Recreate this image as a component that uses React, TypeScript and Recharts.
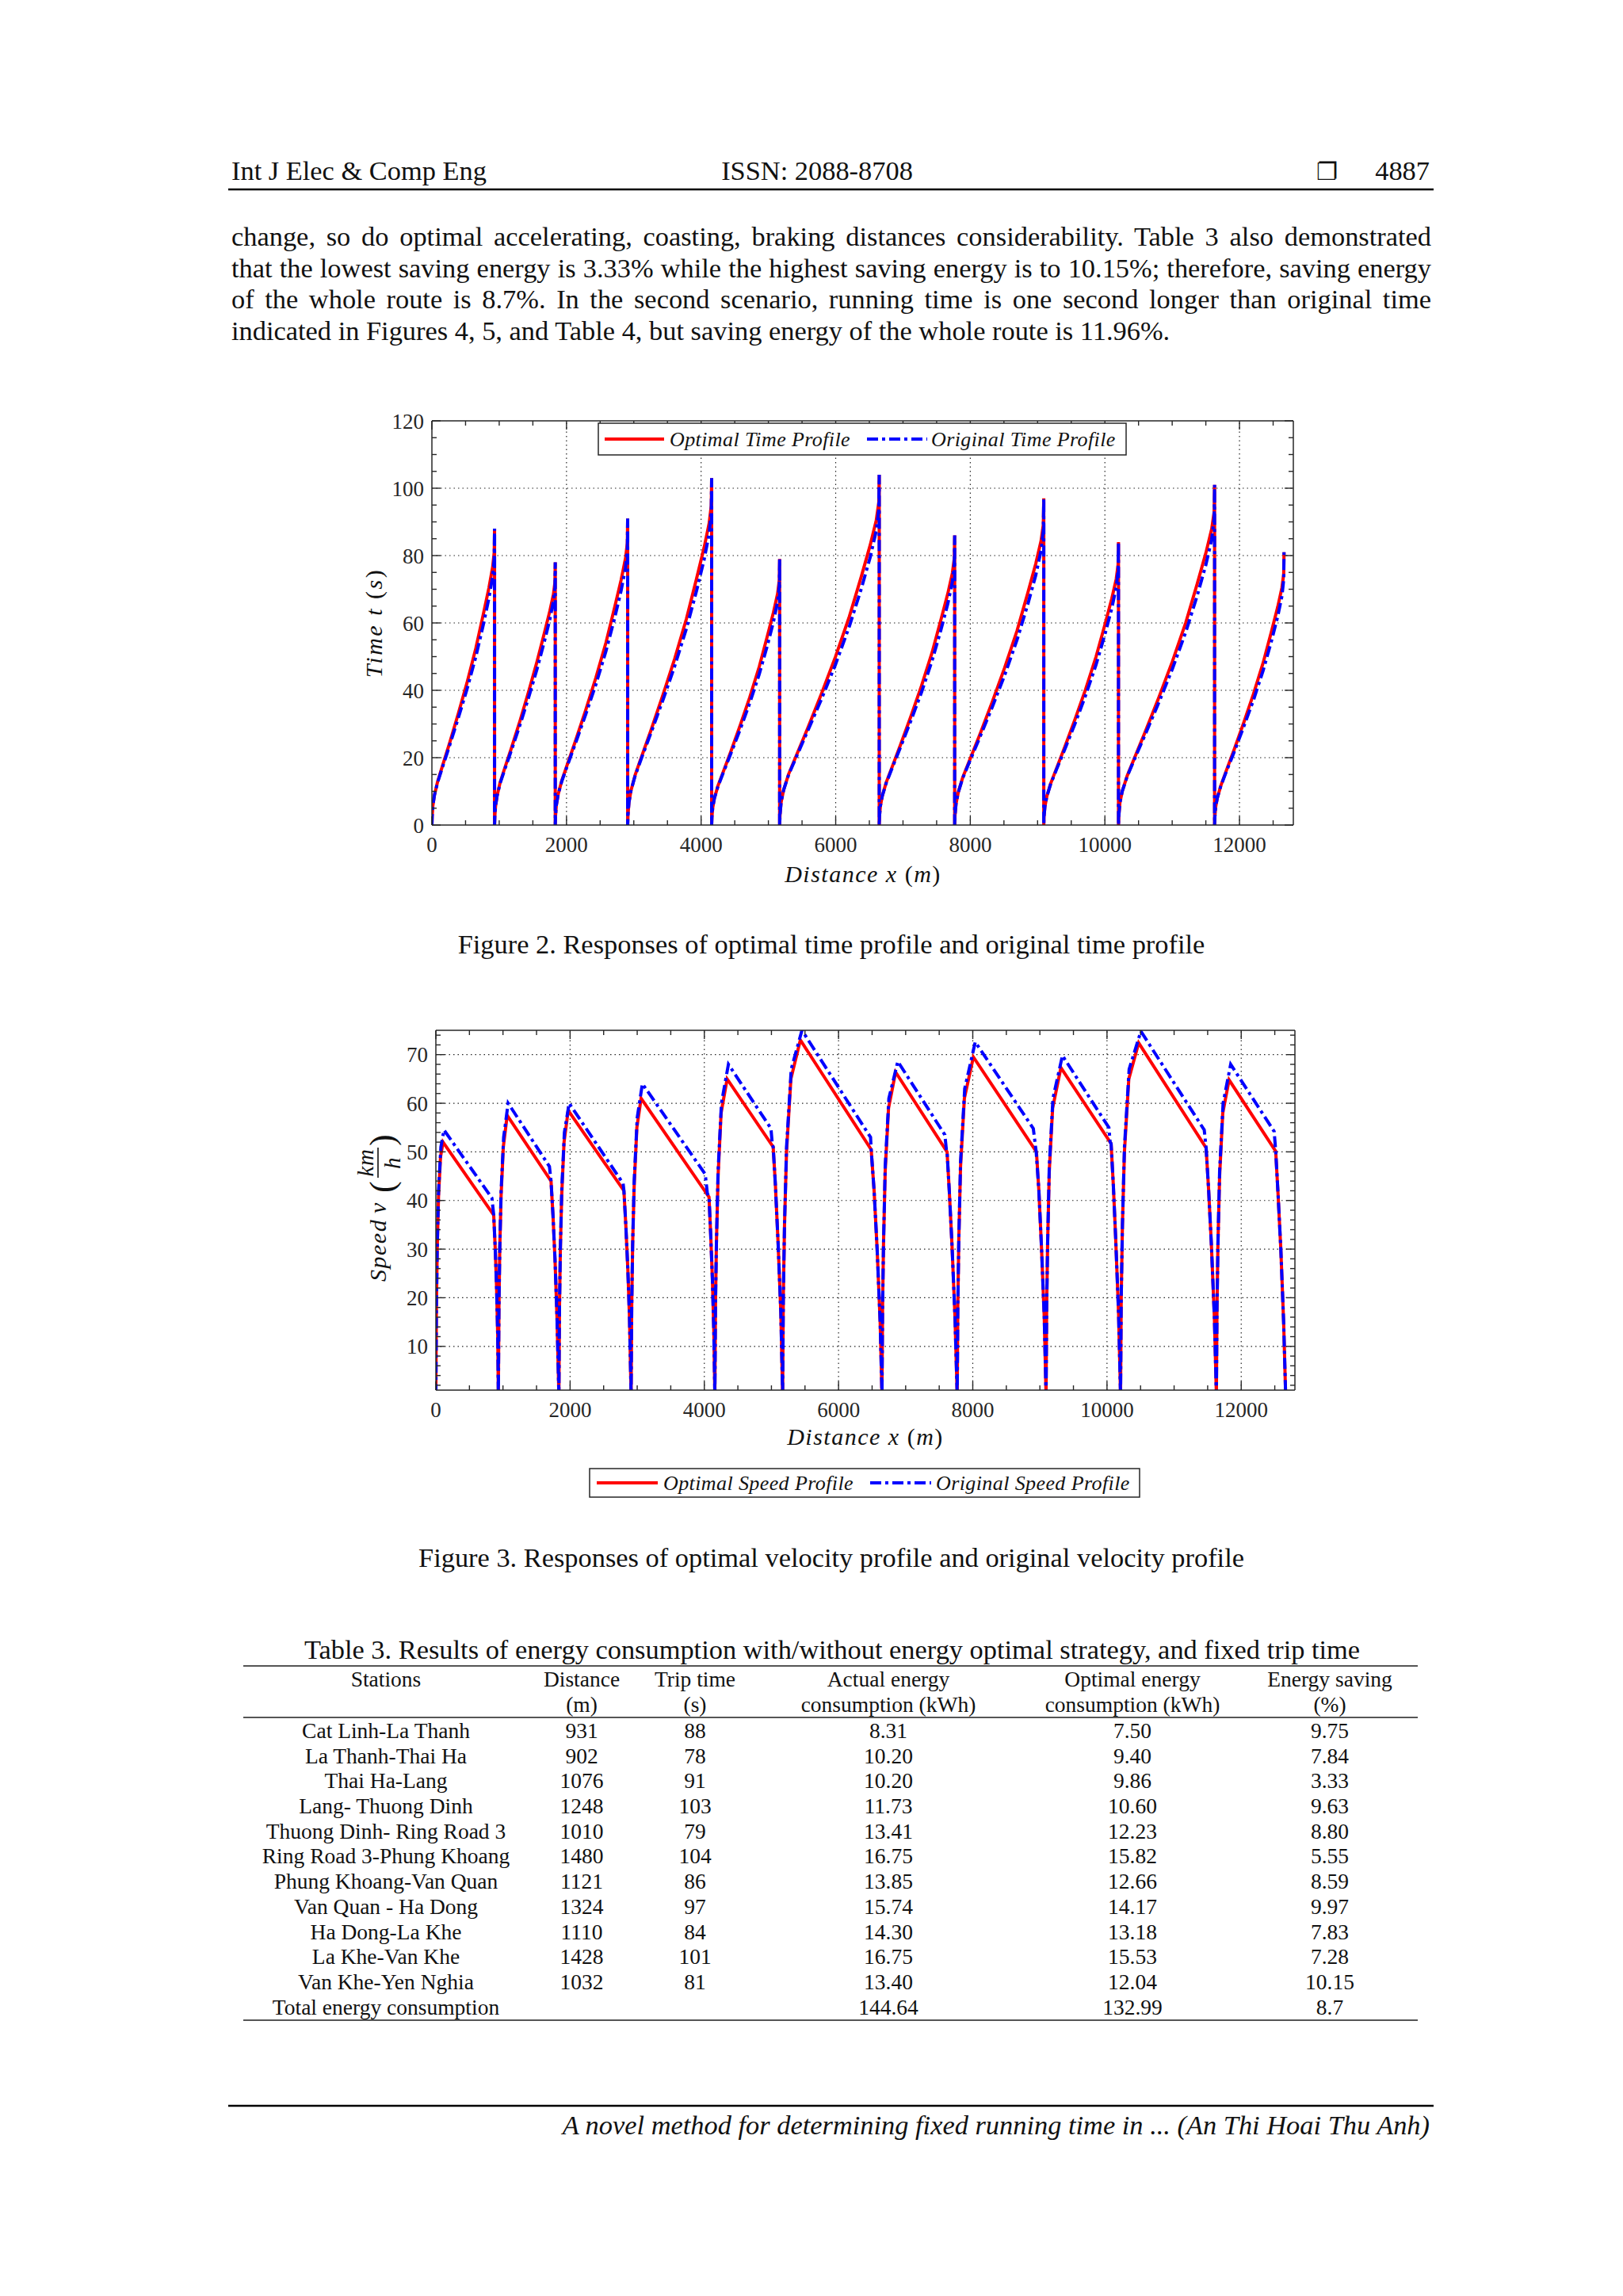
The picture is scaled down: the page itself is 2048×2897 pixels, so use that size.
import React from 'react'
import { LineChart, Line, XAxis, YAxis, ReferenceLine } from 'recharts'

const SERIF = '"Liberation Serif", "Times New Roman", serif'
const AXIS = '#262626'
const RED = '#ff0000'
const BLUE = '#0000ff'
const BLUE_DASH = '14 5 4 5'

// stations / table 3
const stationNames = [
  'Cat Linh-La Thanh', 'La Thanh-Thai Ha', 'Thai Ha-Lang', 'Lang- Thuong Dinh', 'Thuong Dinh- Ring Road 3',
  'Ring Road 3-Phung Khoang', 'Phung Khoang-Van Quan', 'Van Quan - Ha Dong', 'Ha Dong-La Khe', 'La Khe-Van Khe', 'Van Khe-Yen Nghia',
]
const stationLengths = [931, 902, 1076, 1248, 1010, 1480, 1121, 1324, 1110, 1428, 1032]
const tripTimes = [88, 78, 91, 103, 79, 104, 86, 97, 84, 101, 81]
const actualEnergy = ['8.31', '10.20', '10.20', '11.73', '13.41', '16.75', '13.85', '15.74', '14.30', '16.75', '13.40']
const optimalEnergy = ['7.50', '9.40', '9.86', '10.60', '12.23', '15.82', '12.66', '14.17', '13.18', '15.53', '12.04']
const energySaving = ['9.75', '7.84', '3.33', '9.63', '8.80', '5.55', '8.59', '9.97', '7.83', '7.28', '10.15']
const totalRow = ['Total energy consumption', '', '', '144.64', '132.99', '8.7']

// axes
const xMajorTicks = [0, 2000, 4000, 6000, 8000, 10000, 12000]
const xMinorTicks = [0, 500, 1000, 1500, 2000, 2500, 3000, 3500, 4000, 4500, 5000, 5500, 6000, 6500, 7000, 7500, 8000, 8500, 9000, 9500, 10000, 10500, 11000, 11500, 12000, 12500]
const timeMajorTicks = [0, 20, 40, 60, 80, 100, 120]
const timeMinorTicks = [0, 5, 10, 15, 20, 25, 30, 35, 40, 45, 50, 55, 60, 65, 70, 75, 80, 85, 90, 95, 100, 105, 110, 115, 120]
const speedMajorTicks = [10, 20, 30, 40, 50, 60, 70]
const speedMinorTicks = [2, 4, 6, 8, 10, 12, 14, 16, 18, 20, 22, 24, 26, 28, 30, 32, 34, 36, 38, 40, 42, 44, 46, 48, 50, 52, 54, 56, 58, 60, 62, 64, 66, 68, 70, 72, 74]

// figure 2: time read at these fractions of each inter-station run
const timeSampleFractions = [0, 0.004, 0.015, 0.04, 0.09, 0.17, 0.28, 0.42, 0.56, 0.7, 0.82, 0.91, 0.97, 0.995, 1]
const optimalTimeBySegment = [
  [0, 2.6, 5.7, 8.8, 12.8, 17.6, 24.2, 33.0, 42.2, 52.4, 62.5, 70.4, 76.6, 81.0, 88],
  [0, 2.5, 5.5, 8.5, 12.5, 17.0, 23.0, 31.0, 39.5, 48.5, 57.0, 63.5, 68.5, 72.0, 78],
  [0, 2.7, 5.9, 9.1, 13.2, 18.2, 25.0, 34.1, 43.7, 54.1, 64.6, 72.8, 79.2, 83.7, 91],
  [0, 3.1, 6.7, 10.3, 14.9, 20.6, 28.3, 38.6, 49.4, 61.3, 73.1, 82.4, 89.6, 94.8, 103],
  [0, 2.4, 5.1, 7.9, 11.5, 15.8, 21.7, 29.6, 37.9, 47.0, 56.1, 63.2, 68.7, 72.7, 79],
  [0, 3.1, 6.8, 10.4, 15.1, 20.8, 28.6, 39.0, 49.9, 61.9, 73.8, 83.2, 90.5, 95.7, 104],
  [0, 2.6, 5.6, 8.6, 12.5, 17.2, 23.7, 32.3, 41.3, 51.2, 61.1, 68.8, 74.8, 79.1, 86],
  [0, 2.9, 6.3, 9.7, 14.1, 19.4, 26.7, 36.4, 46.6, 57.7, 68.9, 77.6, 84.4, 89.2, 97],
  [0, 2.5, 5.5, 8.4, 12.2, 16.8, 23.1, 31.5, 40.3, 50.0, 59.6, 67.2, 73.1, 77.3, 84],
  [0, 3.0, 6.6, 10.1, 14.6, 20.2, 27.8, 37.9, 48.5, 60.1, 71.7, 80.8, 87.9, 92.9, 101],
  [0, 2.4, 5.3, 8.1, 11.7, 16.2, 22.3, 30.4, 38.9, 48.2, 57.5, 64.8, 70.5, 74.5, 81],
]
const originalTimeBySegment = [
  [0, 2.6, 5.7, 8.8, 12.6, 17.2, 23.5, 31.7, 40.3, 49.9, 59.4, 67.3, 73.9, 79.2, 88],
  [0, 2.5, 5.5, 8.5, 12.3, 16.6, 22.3, 29.8, 37.8, 46.3, 54.5, 61.0, 66.5, 70.5, 78],
  [0, 2.7, 5.9, 9.1, 13.0, 17.8, 24.3, 32.8, 41.7, 51.6, 61.4, 69.6, 76.4, 81.9, 91],
  [0, 3.1, 6.7, 10.3, 14.7, 20.2, 27.5, 37.1, 47.2, 58.4, 69.5, 78.8, 86.5, 92.7, 103],
  [0, 2.4, 5.1, 7.9, 11.3, 15.5, 21.1, 28.4, 36.2, 44.8, 53.3, 60.4, 66.4, 71.1, 79],
  [0, 3.1, 6.8, 10.4, 14.9, 20.4, 27.8, 37.4, 47.6, 59.0, 70.2, 79.6, 87.4, 93.6, 104],
  [0, 2.6, 5.6, 8.6, 12.3, 16.9, 23.0, 31.0, 39.4, 48.8, 58.1, 65.8, 72.2, 77.4, 86],
  [0, 2.9, 6.3, 9.7, 13.9, 19.0, 25.9, 34.9, 44.4, 55.0, 65.5, 74.2, 81.5, 87.3, 97],
  [0, 2.5, 5.5, 8.4, 12.0, 16.5, 22.4, 30.2, 38.5, 47.6, 56.7, 64.3, 70.6, 75.6, 84],
  [0, 3.0, 6.6, 10.1, 14.4, 19.8, 27.0, 36.4, 46.3, 57.3, 68.2, 77.3, 84.8, 90.9, 101],
  [0, 2.4, 5.3, 8.1, 11.6, 15.9, 21.6, 29.2, 37.1, 45.9, 54.7, 62.0, 68.0, 72.9, 81],
]

// figure 3: [distance m, speed km/h] per run
const optimalSpeedSegments = [
  [[0, 0], [8, 18], [20, 30], [40, 41], [70, 49], [107, 52], [862, 37], [885, 30], [905, 22], [922, 12], [931, 0]],
  [[931, 0], [940, 18], [952, 30], [972, 41], [1005, 51], [1063, 57.5], [1716, 44], [1745, 37], [1775, 28], [1805, 16], [1833, 0]],
  [[1833, 0], [1842, 18], [1855, 30], [1875, 41], [1910, 52], [1972, 58.5], [2802, 42], [2830, 35], [2860, 26], [2885, 16], [2909, 0]],
  [[2909, 0], [2918, 18], [2932, 31], [2955, 43], [2995, 55], [3058, 61], [4070, 40.7], [4095, 33], [4120, 24], [4142, 13], [4157, 0]],
  [[4157, 0], [4166, 18], [4180, 31], [4205, 45], [4250, 58], [4340, 65], [5026, 51], [5060, 43], [5100, 31], [5140, 17], [5167, 0]],
  [[5167, 0], [5177, 20], [5195, 35], [5225, 50], [5290, 65], [5431, 73], [6486, 50.5], [6530, 42], [6575, 30], [6620, 15], [6647, 0]],
  [[6647, 0], [6656, 18], [6670, 31], [6695, 46], [6745, 59], [6850, 66.4], [7617, 50], [7650, 42], [7690, 31], [7735, 16], [7768, 0]],
  [[7768, 0], [7777, 18], [7792, 32], [7818, 47], [7875, 61], [8009, 69.5], [8949, 50], [8985, 42], [9025, 30], [9065, 16], [9092, 0]],
  [[9092, 0], [9101, 18], [9115, 31], [9140, 46], [9190, 59], [9313, 67.3], [10061, 51.7], [10095, 43], [10130, 32], [10172, 17], [10202, 0]],
  [[10202, 0], [10212, 20], [10230, 35], [10260, 50], [10325, 65], [10472, 72.4], [11477, 50.8], [11515, 42], [11555, 31], [11600, 16], [11630, 0]],
  [[11630, 0], [11639, 18], [11653, 31], [11678, 45], [11725, 58], [11819, 64.8], [12514, 50.1], [12550, 41], [12590, 30], [12632, 15], [12662, 0]],
]
const originalSpeedSegments = [
  [[0, 0], [8, 18], [20, 30], [40, 42], [75, 51], [121, 54.5], [835, 40.5], [862, 37], [885, 30], [905, 22], [922, 12], [931, 0]],
  [[931, 0], [940, 18], [952, 30], [972, 42], [1010, 53], [1077, 60], [1692, 47], [1716, 44], [1745, 37], [1775, 28], [1805, 16], [1833, 0]],
  [[1833, 0], [1842, 18], [1855, 30], [1875, 42], [1915, 54], [1986, 60], [2790, 43.5], [2802, 42], [2830, 35], [2860, 26], [2885, 16], [2909, 0]],
  [[2909, 0], [2918, 18], [2932, 31], [2955, 44], [3000, 57], [3077, 64], [4014, 45.4], [4045, 41.5], [4070, 40.7], [4095, 33], [4120, 24], [4142, 13], [4157, 0]],
  [[4157, 0], [4166, 18], [4180, 31], [4205, 46], [4255, 60], [4359, 68], [4993, 54.8], [5012, 51.7], [5026, 51], [5060, 43], [5100, 31], [5140, 17], [5167, 0]],
  [[5167, 0], [5177, 20], [5195, 35], [5225, 51], [5295, 67], [5455, 75], [6477, 53], [6486, 50.5], [6530, 42], [6575, 30], [6620, 15], [6647, 0]],
  [[6647, 0], [6656, 18], [6670, 31], [6695, 47], [6750, 61], [6883, 68.6], [7584, 53.5], [7607, 50.4], [7617, 50], [7650, 42], [7690, 31], [7735, 16], [7768, 0]],
  [[7768, 0], [7777, 18], [7792, 32], [7818, 48], [7880, 63], [8037, 72.6], [8902, 54.8], [8945, 50], [8985, 42], [9025, 30], [9065, 16], [9092, 0]],
  [[9092, 0], [9101, 18], [9115, 31], [9140, 47], [9195, 61], [9336, 69.8], [10028, 55], [10047, 52], [10061, 51.7], [10095, 43], [10130, 32], [10172, 17], [10202, 0]],
  [[10202, 0], [10212, 20], [10230, 35], [10260, 51], [10330, 67], [10505, 74.8], [11449, 54.5], [11477, 50.8], [11515, 42], [11555, 31], [11600, 16], [11630, 0]],
  [[11630, 0], [11639, 18], [11653, 31], [11678, 46], [11730, 60], [11843, 68], [12491, 54.2], [12514, 50.1], [12550, 41], [12590, 30], [12632, 15], [12662, 0]],
]

function buildTimePoints(segments: number[][]) {
  const pts: { x: number; t: number }[] = []
  let start = 0
  segments.forEach((times, i) => {
    times.forEach((t, k) => pts.push({ x: Math.round(start + timeSampleFractions[k] * stationLengths[i]), t }))
    start += stationLengths[i]
  })
  return pts
}

function buildSpeedPoints(segments: number[][][]) {
  return segments.flat().map(([x, v]) => ({ x, v }))
}

const optimalTimePoints = buildTimePoints(optimalTimeBySegment)
const originalTimePoints = buildTimePoints(originalTimeBySegment)
const optimalSpeedPoints = buildSpeedPoints(optimalSpeedSegments)
const originalSpeedPoints = buildSpeedPoints(originalSpeedSegments)

type Side = 'bottom' | 'top' | 'left' | 'right'

// inward matlab-style ticks, labels only on bottom/left majors
function axisTick(side: Side, majors: number[], labelled: boolean) {
  return (props: any) => {
    const { x, y, payload } = props
    const v = payload.value
    const len = majors.includes(v) ? 11 : 6
    const dx = side === 'left' ? len : side === 'right' ? -len : 0
    const dy = side === 'bottom' ? -len : side === 'top' ? len : 0
    let label = null
    if (labelled && majors.includes(v)) {
      label = side === 'bottom'
        ? <text x={x} y={y + 34} textAnchor="middle" fontSize={27} fontFamily={SERIF} fill={AXIS}>{v}</text>
        : <text x={x - 10} y={y + 9.5} textAnchor="end" fontSize={27} fontFamily={SERIF} fill={AXIS}>{v}</text>
    }
    return (
      <g>
        <line x1={x} y1={y} x2={x + dx} y2={y + dy} stroke={AXIS} strokeWidth={1.4} />
        {label}
      </g>
    )
  }
}

const axisLine = { stroke: AXIS, strokeWidth: 1.5 }
const grid = { stroke: AXIS, strokeDasharray: '1.5 4', strokeWidth: 1.2 }
const tickBase = { tickLine: false, tickSize: 0, tickMargin: 0, axisLine, interval: 0 as const, allowDataOverflow: true }

function TimeChart() {
  return (
    <LineChart width={1320} height={700} margin={{ top: 50, right: 67, bottom: 138, left: 164 }}>
      <XAxis xAxisId={0} dataKey="x" type="number" domain={[0, 12800]} ticks={xMinorTicks} tick={axisTick('bottom', xMajorTicks, true)} height={1} {...tickBase} />
      <XAxis xAxisId="top" orientation="top" dataKey="x" type="number" domain={[0, 12800]} ticks={xMinorTicks} tick={axisTick('top', xMajorTicks, false)} height={1} {...tickBase} />
      <YAxis yAxisId={0} type="number" domain={[0, 120]} ticks={timeMinorTicks} tick={axisTick('left', timeMajorTicks, true)} width={1} {...tickBase} />
      <YAxis yAxisId="right" orientation="right" type="number" domain={[0, 120]} ticks={timeMinorTicks} tick={axisTick('right', timeMajorTicks, false)} width={1} {...tickBase} />
      {xMajorTicks.slice(1).map(v => <ReferenceLine key={'gx' + v} x={v} {...grid} />)}
      {timeMajorTicks.slice(1, -1).map(v => <ReferenceLine key={'gy' + v} y={v} {...grid} />)}
      <Line data={optimalTimePoints} dataKey="t" type="linear" stroke={RED} strokeWidth={4} dot={false} activeDot={false} isAnimationActive={false} />
      <Line data={originalTimePoints} dataKey="t" type="linear" stroke={BLUE} strokeWidth={4} strokeDasharray={BLUE_DASH} dot={false} activeDot={false} isAnimationActive={false} />
    </LineChart>
  )
}

function SpeedChart() {
  return (
    <LineChart width={1320} height={600} margin={{ top: 39, right: 65, bottom: 105, left: 169 }}>
      <XAxis xAxisId={0} dataKey="x" type="number" domain={[0, 12800]} ticks={xMinorTicks} tick={axisTick('bottom', xMajorTicks, true)} height={1} {...tickBase} />
      <XAxis xAxisId="top" orientation="top" dataKey="x" type="number" domain={[0, 12800]} ticks={xMinorTicks} tick={axisTick('top', xMajorTicks, false)} height={1} {...tickBase} />
      <YAxis yAxisId={0} type="number" domain={[1, 75]} ticks={speedMinorTicks} tick={axisTick('left', speedMajorTicks, true)} width={1} {...tickBase} />
      <YAxis yAxisId="right" orientation="right" type="number" domain={[1, 75]} ticks={speedMinorTicks} tick={axisTick('right', speedMajorTicks, false)} width={1} {...tickBase} />
      {xMajorTicks.slice(1).map(v => <ReferenceLine key={'gx' + v} x={v} {...grid} />)}
      {speedMajorTicks.map(v => <ReferenceLine key={'gy' + v} y={v} {...grid} />)}
      <Line data={optimalSpeedPoints} dataKey="v" type="linear" stroke={RED} strokeWidth={4} dot={false} activeDot={false} isAnimationActive={false} />
      <Line data={originalSpeedPoints} dataKey="v" type="linear" stroke={BLUE} strokeWidth={4} strokeDasharray={BLUE_DASH} dot={false} activeDot={false} isAnimationActive={false} />
    </LineChart>
  )
}

function Txt({ x, y, size = 34.4, align = 'left', italic = false, family = SERIF, children }: {
  x: number; y: number; size?: number; align?: 'left' | 'center' | 'right'; italic?: boolean; family?: string; children: React.ReactNode
}) {
  const shift = align === 'center' ? 'translateX(-50%)' : align === 'right' ? 'translateX(-100%)' : 'none'
  return (
    <div style={{ position: 'absolute', left: x, top: y - 0.8375 * size, fontSize: size, lineHeight: 1, fontFamily: family, fontStyle: italic ? 'italic' : 'normal', whiteSpace: 'nowrap', transform: shift, color: '#111' }}>
      {children}
    </div>
  )
}

function Justified({ y, last = false, children }: { y: number; last?: boolean; children: React.ReactNode }) {
  return (
    <div style={{ position: 'absolute', left: 292, top: y - 0.8375 * 34.4, width: 1514, fontSize: 34.4, lineHeight: 1, fontFamily: SERIF, textAlign: last ? 'left' : 'justify', textAlignLast: last ? 'left' : 'justify', color: '#111' }}>
      {children}
    </div>
  )
}

const legendText = { fontFamily: SERIF, fontStyle: 'italic' as const, fontSize: 26, letterSpacing: 0.4, fill: '#111' }
const titleText = { fontFamily: SERIF, fontStyle: 'italic' as const, fontSize: 30, letterSpacing: 1.5, fill: '#111' }

function Overlay() {
  return (
    <svg width={2048} height={2897} style={{ position: 'absolute', left: 0, top: 0, pointerEvents: 'none' }}>
      {/* figure 2 titles + legend */}
      <text x={1089} y={1113} textAnchor="middle" {...titleText}>Distance x <tspan fontStyle="normal">(</tspan>m<tspan fontStyle="normal">)</tspan></text>
      <text transform="translate(482,786) rotate(-90)" textAnchor="middle" {...titleText} letterSpacing={2.5}>Time t <tspan fontStyle="normal">(</tspan>s<tspan fontStyle="normal">)</tspan></text>
      <rect x={755} y={534} width={666} height={40} fill="#fff" stroke={AXIS} strokeWidth={1.5} />
      <line x1={763} y1={554} x2={838} y2={554} stroke={RED} strokeWidth={4} />
      <text x={845} y={563} {...legendText}>Optimal Time Profile</text>
      <line x1={1094} y1={554} x2={1170} y2={554} stroke={BLUE} strokeWidth={4} strokeDasharray={BLUE_DASH} />
      <text x={1175} y={563} {...legendText}>Original Time Profile</text>

      {/* figure 3 titles + legend */}
      <text x={1092} y={1823} textAnchor="middle" {...titleText}>Distance x <tspan fontStyle="normal">(</tspan>m<tspan fontStyle="normal">)</tspan></text>
      <g transform="translate(480,1617) rotate(-90)">
        <text x={0} y={7} {...titleText}>Speed</text>
        <text x={86} y={7} {...titleText}>v</text>
        <text x={112} y={17} fontFamily={SERIF} fontSize={44} fill="#111">(</text>
        <text x={150} y={-9} textAnchor="middle" {...titleText} fontSize={29} letterSpacing={0.5}>km</text>
        <line x1={131} y1={-3} x2={169} y2={-3} stroke="#111" strokeWidth={1.6} />
        <text x={150} y={25} textAnchor="middle" {...titleText} fontSize={29}>h</text>
        <text x={171} y={17} fontFamily={SERIF} fontSize={44} fill="#111">)</text>
      </g>
      <rect x={744} y={1853} width={694} height={36} fill="#fff" stroke={AXIS} strokeWidth={1.5} />
      <line x1={753} y1={1871} x2={830} y2={1871} stroke={RED} strokeWidth={4} />
      <text x={837} y={1880} {...legendText}>Optimal Speed Profile</text>
      <line x1={1098} y1={1871} x2={1175} y2={1871} stroke={BLUE} strokeWidth={4} strokeDasharray={BLUE_DASH} />
      <text x={1181} y={1880} {...legendText}>Original Speed Profile</text>

      {/* page rules */}
      <line x1={288} y1={239} x2={1809} y2={239} stroke="#000" strokeWidth={2.5} />
      <line x1={307} y1={2102} x2={1789} y2={2102} stroke="#555" strokeWidth={2} />
      <line x1={307} y1={2167} x2={1789} y2={2167} stroke="#555" strokeWidth={2} />
      <line x1={307} y1={2549} x2={1789} y2={2549} stroke="#555" strokeWidth={2} />
      <line x1={288} y1={2657} x2={1809} y2={2657} stroke="#000" strokeWidth={2.5} />
    </svg>
  )
}

const columnCenters = [487, 734, 877, 1121, 1429, 1678]
const headerTop = ['Stations', 'Distance', 'Trip time', 'Actual energy', 'Optimal energy', 'Energy saving']
const headerBottom = ['', '(m)', '(s)', 'consumption (kWh)', 'consumption (kWh)', '(%)']

function Table() {
  const rows = stationNames.map((name, i) => [name, String(stationLengths[i]), String(tripTimes[i]), actualEnergy[i], optimalEnergy[i], energySaving[i]])
  rows.push(totalRow)
  return (
    <>
      <Txt x={1050} y={2093} align="center">Table 3. Results of energy consumption with/without energy optimal strategy, and fixed trip time</Txt>
      {headerTop.map((h, c) => <Txt key={'h1' + c} x={columnCenters[c]} y={2128} size={27.5} align="center">{h}</Txt>)}
      {headerBottom.map((h, c) => h ? <Txt key={'h2' + c} x={columnCenters[c]} y={2160} size={27.5} align="center">{h}</Txt> : null)}
      {rows.map((row, r) => row.map((cell, c) => cell
        ? <Txt key={r + '-' + c} x={columnCenters[c]} y={2193 + r * 31.7} size={27.5} align="center">{cell}</Txt>
        : null))}
    </>
  )
}

export default function App() {
  return (
    <div style={{ position: 'absolute', left: 0, top: 0, width: 2048, height: 2897, background: '#fff', fontFamily: SERIF }}>
      <Txt x={292} y={227}>Int J Elec &amp; Comp Eng</Txt>
      <Txt x={1031} y={227} align="center">ISSN: 2088-8708</Txt>
      <Txt x={1661} y={227} size={30} family='"DejaVu Sans", sans-serif'>❐</Txt>
      <Txt x={1804} y={227} align="right">4887</Txt>

      <Justified y={310}>change, so do optimal accelerating, coasting, braking distances considerability. Table 3 also demonstrated</Justified>
      <Justified y={349.5}>that the lowest saving energy is 3.33% while the highest saving energy is to 10.15%; therefore, saving energy</Justified>
      <Justified y={389}>of the whole route is 8.7%. In the second scenario, running time is one second longer than original time</Justified>
      <Justified y={428.5} last>indicated in Figures 4, 5, and Table 4, but saving energy of the whole route is 11.96%.</Justified>

      <div style={{ position: 'absolute', left: 380, top: 480 }}>
        <TimeChart />
      </div>
      <Txt x={1049} y={1203} align="center">Figure 2. Responses of optimal time profile and original time profile</Txt>

      <div style={{ position: 'absolute', left: 380, top: 1260 }}>
        <SpeedChart />
      </div>
      <Txt x={1049} y={1977} align="center">Figure 3. Responses of optimal velocity profile and original velocity profile</Txt>

      <Table />

      <Txt x={1804} y={2693} align="right" italic>A novel method for determining fixed running time in ... (An Thi Hoai Thu Anh)</Txt>

      <Overlay />
    </div>
  )
}
